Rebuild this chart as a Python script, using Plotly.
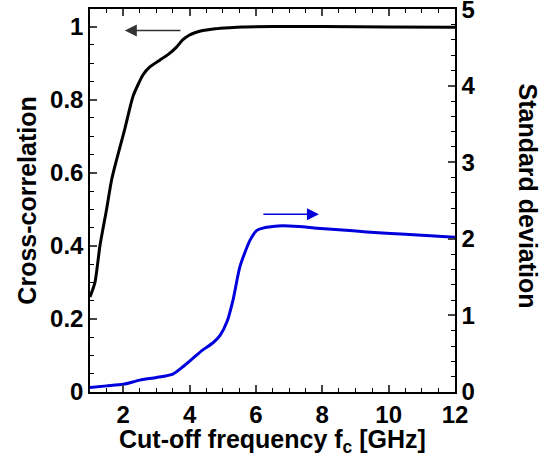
import plotly.graph_objects as go

# Cross-correlation (left axis)
fc_corr = [1.0, 1.15, 1.30, 1.50, 1.65, 1.80, 2.05, 2.30, 2.60, 2.81, 3.10, 3.35, 3.60, 3.80, 4.00, 4.16, 4.40, 4.77, 5.20, 5.60, 6.50, 8.0, 10.0, 12.0]
corr = [0.26, 0.30, 0.40, 0.50, 0.58, 0.635, 0.72, 0.81, 0.868, 0.89, 0.908, 0.923, 0.943, 0.964, 0.977, 0.983, 0.989, 0.994, 0.997, 0.999, 1.0, 1.0, 0.999, 0.998]

# Standard deviation (right axis)
fc_std = [1.0, 1.5, 2.0, 2.5, 3.0, 3.5, 3.8, 4.1, 4.4, 4.7, 4.92, 5.13, 5.31, 5.52, 5.82, 6.03, 6.21, 6.5, 6.81, 7.3, 7.84, 8.5, 9.34, 10.5, 12.0]
std = [0.06, 0.08, 0.10, 0.155, 0.19, 0.235, 0.33, 0.44, 0.55, 0.64, 0.74, 0.92, 1.2, 1.64, 1.98, 2.11, 2.14, 2.16, 2.17, 2.16, 2.14, 2.12, 2.09, 2.06, 2.02]

x_ticks = [2, 4, 6, 8, 10, 12]
y1_ticks = [0, 0.2, 0.4, 0.6, 0.8, 1]
y1_labels = ["0", "0.2", "0.4", "0.6", "0.8", "1"]
y2_ticks = [0, 1, 2, 3, 4, 5]

FONT = "Liberation Sans, Arial, sans-serif"
TICKF = dict(family=FONT, size=24, color="black", weight="bold")
TITF = dict(family=FONT, size=25, color="black", weight="bold")

fig = go.Figure()
fig.add_trace(go.Scatter(x=fc_corr, y=corr, mode="lines", line=dict(color="black", width=3, shape="spline", smoothing=0.6), showlegend=False))
fig.add_trace(go.Scatter(x=fc_std, y=std, mode="lines", yaxis="y2", line=dict(color="#0000dd", width=3, shape="spline", smoothing=0.6), showlegend=False))

fig.update_layout(
    width=549, height=459,
    margin=dict(l=90, r=94, t=9, b=67, autoexpand=False),
    paper_bgcolor="white", plot_bgcolor="white",
    font=TICKF,
    xaxis=dict(
        range=[1, 12], tickvals=x_ticks, ticktext=[str(v) for v in x_ticks], ticks="inside", ticklen=7, tickwidth=1.5,
        showline=True, linewidth=1.5, linecolor="black", mirror="ticks", showgrid=False, zeroline=False,
        tickfont=TICKF, automargin=False, ticklabelstandoff=0,
        minor=dict(dtick=0.5, tick0=1, ticks="inside", ticklen=4, tickwidth=1, tickcolor="black"),
    ),
    yaxis=dict(
        range=[0, 1.048], tickvals=y1_ticks, ticktext=y1_labels, ticks="inside", ticklen=7, tickwidth=1.5,
        showline=True, linewidth=1.5, linecolor="black", showgrid=False, zeroline=False,
        tickfont=TICKF, automargin=False,
        minor=dict(dtick=0.05, tick0=0, ticks="inside", ticklen=4, tickwidth=1, tickcolor="black"),
    ),
    yaxis2=dict(
        range=[0, 5.002], tickvals=y2_ticks, ticktext=[str(v) for v in y2_ticks], overlaying="y", side="right",
        ticks="inside", ticklen=7, tickwidth=1.5, ticklabeloverflow="allow",
        showline=True, linewidth=1.5, linecolor="black", showgrid=False, zeroline=False,
        tickfont=TICKF, automargin=False,
        minor=dict(dtick=0.2, tick0=0, ticks="inside", ticklen=4, tickwidth=1, tickcolor="black"),
    ),
)

# axis titles
fig.add_annotation(text="Cut-off frequency f<sub>c</sub> [GHz]", xref="paper", yref="paper",
                   x=0.5, y=-0.08, yanchor="top", xanchor="center", showarrow=False, font=TITF)
fig.add_annotation(text="Cross-correlation", xref="paper", yref="paper", x=-0.175, y=0.5,
                   textangle=-90, xanchor="center", yanchor="middle", showarrow=False, font=TITF)
fig.add_annotation(text="Standard deviation", xref="paper", yref="paper", x=1.2, y=0.513,
                   textangle=90, xanchor="center", yanchor="middle", showarrow=False, font=TITF)

# arrows
fig.add_annotation(x=2.05, y=0.989, ax=3.77, ay=0.989, xref="x", yref="y", axref="x", ayref="y",
                   text="", showarrow=True, arrowhead=2, arrowsize=1.6, arrowwidth=1.5, arrowcolor="#333333")
fig.add_annotation(x=7.9, y=2.32, ax=6.18, ay=2.32, xref="x", yref="y2", axref="x", ayref="y2",
                   text="", showarrow=True, arrowhead=2, arrowsize=1.6, arrowwidth=1.5, arrowcolor="#0000dd")

fig.write_html("out.html", config={"displayModeBar": False},
               post_script="document.body.style.margin='0';document.body.style.padding='0';")
